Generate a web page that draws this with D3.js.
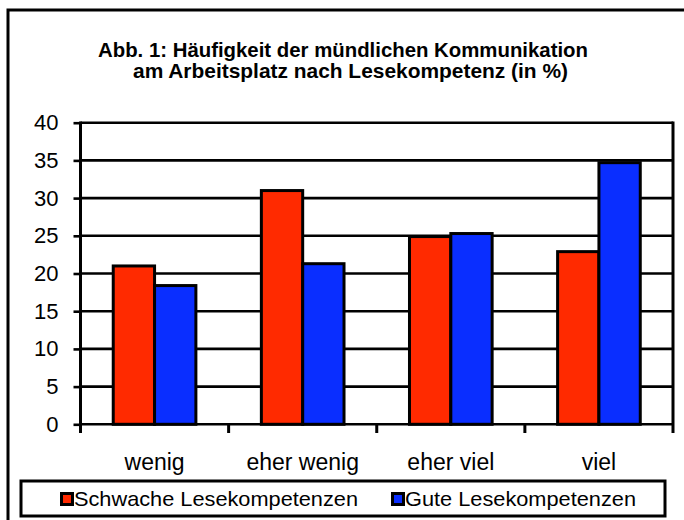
<!DOCTYPE html>
<html>
<head>
<meta charset="utf-8">
<script src="https://cdn.jsdelivr.net/npm/d3@7"></script>
<style>
  body { margin: 0; background: #fff; }
  text { font-family: "Liberation Sans", Arial, sans-serif; fill: #000; }
</style>
</head>
<body>
<svg id="chart" width="684" height="520"></svg>
<script>
const categories = ['wenig', 'eher wenig', 'eher viel', 'viel']
const seriesNames = ['Schwache Lesekompetenzen', 'Gute Lesekompetenzen']
const schwache = [21.0, 31.0, 24.9, 22.9]
const gute = [18.4, 21.3, 25.3, 34.7]
const yTicks = [0, 5, 10, 15, 20, 25, 30, 35, 40]
const titleLines = ['Abb. 1: Häufigkeit der mündlichen Kommunikation', 'am Arbeitsplatz nach Lesekompetenz (in %)']
const colors = ['#ff2a00', '#0a2eff']

const svg = d3.select('#chart')
const plotL = 80.5, plotR = 673, plotT = 122.7, plotB = 424.3

// outer frame (runs off the right/bottom edge like the source)
svg.append('rect').attr('x', 8).attr('y', 10).attr('width', 720).attr('height', 540)
  .attr('fill', '#fff').attr('stroke', '#000').attr('stroke-width', 3)

svg.selectAll('text.title').data(titleLines).join('text')
  .attr('class', 'title')
  .attr('x', (d, i) => i ? 133 : 98)
  .attr('y', (d, i) => i ? 78 : 57)
  .attr('textLength', (d, i) => i ? 435 : 490)
  .attr('lengthAdjust', 'spacingAndGlyphs')
  .style('font-size', '21px').style('font-weight', 'bold')
  .text(d => d)

const y = d3.scaleLinear().domain([0, 40]).range([plotB, plotT])
const x = d3.scaleBand().domain(categories).range([plotL, plotR]).paddingInner(0.442).paddingOuter(0.221)
const xs = d3.scaleBand().domain([0, 1]).range([0, x.bandwidth()])

// gridlines
svg.append('g').selectAll('line').data(yTicks).join('line')
  .attr('x1', plotL).attr('x2', plotR)
  .attr('y1', d => y(d)).attr('y2', d => y(d))
  .attr('stroke', '#000').attr('stroke-width', 2.6)

// bars
const groups = svg.append('g').selectAll('g').data(categories).join('g')
  .attr('transform', d => `translate(${x(d)},0)`)
groups.selectAll('rect').data((d, i) => [schwache[i], gute[i]]).join('rect')
  .attr('x', (d, j) => xs(j)).attr('width', xs.bandwidth())
  .attr('y', d => y(d)).attr('height', d => plotB - y(d))
  .attr('fill', (d, j) => colors[j])
  .attr('stroke', '#000').attr('stroke-width', 3)

// y axis
const yAxis = svg.append('g').attr('transform', `translate(${plotL},0)`)
  .call(d3.axisLeft(y).tickValues(yTicks).tickSize(7).tickPadding(15))
yAxis.select('.domain').remove()
yAxis.selectAll('line').attr('stroke', '#000').attr('stroke-width', 2.6)
yAxis.selectAll('text').style('font-size', '22px').attr('font-family', null)
svg.append('line').attr('x1', plotL).attr('x2', plotL).attr('y1', plotT - 1.3).attr('y2', 433)
  .attr('stroke', '#000').attr('stroke-width', 3)

// x axis: ticks at category boundaries, labels centered
const bounds = categories.map((d, i) => plotL + x.step() * (i + 1))
svg.append('g').selectAll('line').data(bounds).join('line')
  .attr('x1', d => d).attr('x2', d => d)
  .attr('y1', d => d >= plotR - 1 ? plotT - 1.3 : plotB).attr('y2', 433)
  .attr('stroke', '#000').attr('stroke-width', 3)
const xAxis = svg.append('g').attr('transform', `translate(0,${plotB})`)
  .call(d3.axisBottom(x).tickSize(0).tickPadding(29))
xAxis.select('.domain').remove()
xAxis.selectAll('text').style('font-size', '23px').attr('font-family', null)

// legend
const lg = svg.append('g')
lg.append('rect').attr('x', 21).attr('y', 481).attr('width', 644).attr('height', 35)
  .attr('fill', '#fff').attr('stroke', '#000').attr('stroke-width', 3)
const items = lg.selectAll('g').data(seriesNames).join('g')
  .attr('transform', (d, i) => `translate(${i ? 391 : 60},0)`)
items.append('rect').attr('x', 1.5).attr('y', 493.5).attr('width', 11).attr('height', 11)
  .attr('fill', (d, i) => colors[i]).attr('stroke', '#000').attr('stroke-width', 3)
items.append('text').attr('x', 14).attr('y', 506)
  .attr('textLength', (d, i) => i ? 231 : 284).attr('lengthAdjust', 'spacingAndGlyphs')
  .style('font-size', '21px').text(d => d)
</script>
</body>
</html>
